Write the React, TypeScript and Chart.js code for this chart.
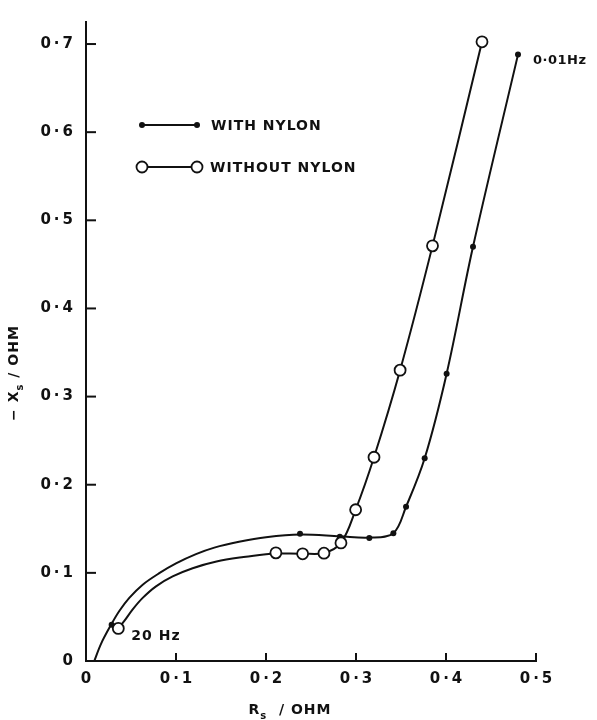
import React, { useEffect, useRef } from "react";
import { Chart, registerables } from "chart.js";

Chart.register(...registerables);

// Measured points (markers)
const withNylonX = [0.0285, 0.2378, 0.282, 0.3148, 0.3415, 0.3556, 0.3763, 0.4007, 0.43, 0.48];
const withNylonY = [0.041, 0.1443, 0.141, 0.1395, 0.145, 0.175, 0.23, 0.326, 0.47, 0.688];
const withoutNylonX = [0.0359, 0.211, 0.2407, 0.2644, 0.2833, 0.2996, 0.32, 0.349, 0.385, 0.44];
const withoutNylonY = [0.037, 0.1227, 0.1216, 0.1223, 0.134, 0.1716, 0.2312, 0.33, 0.471, 0.7025];

// Hand-drawn smooth curves
const curveWithX = [0.0092, 0.0167, 0.0278, 0.037, 0.0481, 0.063, 0.0814, 0.1, 0.1222, 0.1426, 0.17, 0.2, 0.2378, 0.282, 0.3148, 0.3415, 0.3556, 0.3763, 0.4007, 0.43, 0.48];
const curveWithY = [0, 0.0195, 0.041, 0.0567, 0.0716, 0.0866, 0.0996, 0.1107, 0.1212, 0.1286, 0.1352, 0.1404, 0.1435, 0.1415, 0.14, 0.145, 0.175, 0.23, 0.326, 0.47, 0.688];
const curveWithoutX = [0.0359, 0.0426, 0.0519, 0.063, 0.0778, 0.0963, 0.1185, 0.145, 0.175, 0.2, 0.211, 0.2407, 0.2644, 0.2833, 0.2996, 0.32, 0.349, 0.385, 0.44];
const curveWithoutY = [0.037, 0.0455, 0.0586, 0.0716, 0.0847, 0.0959, 0.1052, 0.1128, 0.118, 0.1212, 0.122, 0.1218, 0.1225, 0.134, 0.1716, 0.2312, 0.33, 0.471, 0.7025];

const xTickValues = [0, 0.1, 0.2, 0.3, 0.4, 0.5];
const yTickValues = [0, 0.1, 0.2, 0.3, 0.4, 0.5, 0.6, 0.7];
const seriesLabels = ["WITH NYLON", "WITHOUT NYLON"];
const lowFreqLabel = "20 Hz";
const highFreqLabel = "0·01Hz";

const INK = "#111";
const FONT = "'DejaVu Sans', sans-serif";

const zip = (xs: number[], ys: number[]) => xs.map((x, i) => ({ x, y: ys[i] }));

const fmtTick = (v: number) => {
  const r = Math.round(v * 10) / 10;
  if (r === 0) return "0";
  return r.toFixed(1).replace(".", "\u2009·\u2009");
};

const decor = {
  id: "decor",
  afterDraw(chart: any) {
    const { ctx, chartArea, scales } = chart;
    const x = scales.x;
    const y = scales.y;
    ctx.save();
    ctx.strokeStyle = INK;
    ctx.fillStyle = INK;
    ctx.lineWidth = 2;
    // inward ticks
    yTickValues.forEach((v) => {
      if (v === 0) return;
      const py = y.getPixelForValue(v);
      ctx.beginPath();
      ctx.moveTo(chartArea.left, py);
      ctx.lineTo(chartArea.left + 10, py);
      ctx.stroke();
    });
    xTickValues.forEach((v) => {
      if (v === 0) return;
      const px = x.getPixelForValue(v);
      ctx.beginPath();
      ctx.moveTo(px, chartArea.bottom);
      ctx.lineTo(px, chartArea.bottom - 8);
      ctx.stroke();
    });

    // legend
    const lx0 = chartArea.left + 56;
    const lx1 = chartArea.left + 111;
    const ly1 = chartArea.top + 103;
    const ly2 = chartArea.top + 145;
    ctx.lineWidth = 1.8;
    ctx.beginPath();
    ctx.moveTo(lx0, ly1);
    ctx.lineTo(lx1, ly1);
    ctx.stroke();
    [lx0, lx1].forEach((px) => {
      ctx.beginPath();
      ctx.arc(px, ly1, 3, 0, Math.PI * 2);
      ctx.fill();
    });
    ctx.beginPath();
    ctx.moveTo(lx0, ly2);
    ctx.lineTo(lx1, ly2);
    ctx.stroke();
    [lx0, lx1].forEach((px) => {
      ctx.beginPath();
      ctx.arc(px, ly2, 5.5, 0, Math.PI * 2);
      ctx.fillStyle = "#fff";
      ctx.fill();
      ctx.stroke();
    });
    ctx.fillStyle = INK;
    ctx.font = `bold 14px ${FONT}`;
    (ctx as any).letterSpacing = "1px";
    ctx.textBaseline = "middle";
    ctx.textAlign = "left";
    ctx.fillText(seriesLabels[0], chartArea.left + 125, ly1 + 1);
    ctx.fillText(seriesLabels[1], chartArea.left + 124, ly2 + 1);

    // frequency annotations
    const p0x = x.getPixelForValue(withoutNylonX[0]);
    const p0y = y.getPixelForValue(withoutNylonY[0]);
    ctx.fillText(lowFreqLabel, p0x + 13, p0y + 8);
    const n = withNylonX.length - 1;
    const p1x = x.getPixelForValue(withNylonX[n]);
    const p1y = y.getPixelForValue(withNylonY[n]);
    (ctx as any).letterSpacing = "0.5px";
    ctx.font = `bold 13px ${FONT}`;
    ctx.fillText(highFreqLabel, p1x + 15, p1y + 6);
    (ctx as any).letterSpacing = "1px";

    // axis titles with subscripts
    const drawTitle = (main: string, sub: string, rest: string) => {
      ctx.font = `bold 14px ${FONT}`;
      const w1 = ctx.measureText(main).width;
      ctx.font = `bold 10px ${FONT}`;
      const w2 = ctx.measureText(sub).width;
      ctx.font = `bold 14px ${FONT}`;
      const w3 = ctx.measureText(rest).width;
      const total = w1 + w2 + w3;
      let cx = -total / 2;
      ctx.fillText(main, cx, 0);
      cx += w1;
      ctx.font = `bold 10px ${FONT}`;
      ctx.fillText(sub, cx, 6);
      cx += w2;
      ctx.font = `bold 14px ${FONT}`;
      ctx.fillText(rest, cx, 0);
    };
    ctx.save();
    ctx.translate(290, 710);
    drawTitle("R", "s", "  / OHM");
    ctx.restore();
    ctx.save();
    ctx.translate(14, 373);
    ctx.rotate(-Math.PI / 2);
    drawTitle("\u2212 X", "s", " / OHM");
    ctx.restore();

    ctx.restore();
  },
};

export default function App() {
  const ref = useRef<HTMLCanvasElement | null>(null);
  useEffect(() => {
    if (!ref.current) return;
    const chart = new Chart(ref.current, {
      type: "scatter",
      data: {
        datasets: [
          {
            label: seriesLabels[0] + " curve",
            data: zip(curveWithX, curveWithY),
            showLine: true,
            borderColor: INK,
            borderWidth: 2,
            pointRadius: 0,
            tension: 0.35,
            order: 3,
          } as any,
          {
            label: seriesLabels[1] + " curve",
            data: zip(curveWithoutX, curveWithoutY),
            showLine: true,
            borderColor: INK,
            borderWidth: 2,
            pointRadius: 0,
            tension: 0.35,
            order: 2,
          } as any,
          {
            label: seriesLabels[0],
            data: zip(withNylonX, withNylonY),
            showLine: false,
            pointRadius: 3,
            pointBackgroundColor: INK,
            pointBorderColor: INK,
            pointBorderWidth: 0,
            order: 1,
          },
          {
            label: seriesLabels[1],
            data: zip(withoutNylonX, withoutNylonY),
            showLine: false,
            pointRadius: 5.5,
            pointBackgroundColor: "#fff",
            pointBorderColor: INK,
            pointBorderWidth: 1.8,
            order: 0,
          },
        ],
      },
      options: {
        responsive: false,
        animation: false,
        layout: { padding: { left: 0, right: 61, top: 12, bottom: 0 } },
        plugins: { legend: { display: false }, tooltip: { enabled: false } },
        scales: {
          x: {
            type: "linear",
            min: 0,
            max: 0.5,
            afterFit: (s: any) => {
              s.height = 59;
            },
            afterBuildTicks: (s: any) => {
              s.ticks = xTickValues.map((v) => ({ value: v }));
            },
            grid: { display: false, drawTicks: false },
            border: { display: true, color: INK, width: 2 },
            ticks: {
              padding: 9,
              color: INK,
              font: { family: FONT, size: 15, weight: "bold" },
              callback: (v: any) => fmtTick(Number(v)),
              maxRotation: 0,
            },
          },
          y: {
            type: "linear",
            min: 0,
            max: 0.725,
            afterFit: (s: any) => {
              s.width = 86;
            },
            afterBuildTicks: (s: any) => {
              s.ticks = yTickValues.map((v) => ({ value: v }));
            },
            grid: { display: false, drawTicks: false },
            border: { display: true, color: INK, width: 2 },
            ticks: {
              padding: 13,
              color: INK,
              font: { family: FONT, size: 15, weight: "bold" },
              callback: (v: any) => fmtTick(Number(v)),
            },
          },
        },
      },
      plugins: [decor],
    });
    return () => chart.destroy();
  }, []);
  return (
    <div style={{ position: "fixed", left: 0, top: 0, width: 597, height: 720, background: "#fff" }}>
      <canvas ref={ref} width={597} height={720} style={{ width: 597, height: 720, display: "block" }} />
    </div>
  );
}
